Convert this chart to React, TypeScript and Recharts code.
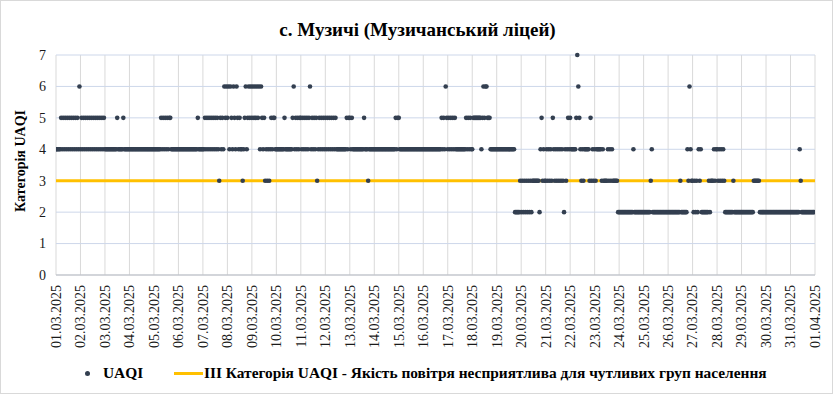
import { ComposedChart, Scatter, Line, XAxis, YAxis, CartesianGrid } from "recharts";

const dayLabels = [
  "01.03.2025", "02.03.2025", "03.03.2025", "04.03.2025", "05.03.2025", "06.03.2025",
  "07.03.2025", "08.03.2025", "09.03.2025", "10.03.2025", "11.03.2025", "12.03.2025",
  "13.03.2025", "14.03.2025", "15.03.2025", "16.03.2025", "17.03.2025", "18.03.2025",
  "19.03.2025", "20.03.2025", "21.03.2025", "22.03.2025", "23.03.2025", "24.03.2025",
  "25.03.2025", "26.03.2025", "27.03.2025", "28.03.2025", "29.03.2025", "30.03.2025",
  "31.03.2025", "01.04.2025",
];

// hourly UAQI category, one string of 24 hours per day (01.03 .. 31.03)
const hourlyUaqi = [
  "444445454545454545454546",
  "454545454545454545454545",
  "444444444444544444544444",
  "444444444444444444444444",
  "444444454545454554444444",
  "444444444444444444454444",
  "445454545454545435454656",
  "564654654654544345645656",
  "565656564654534343454554",
  "444444445444444456454545",
  "545454545645454534545454",
  "545454545454444444444545",
  "545444444444445444344444",
  "444444444444444444444545",
  "544444444444444444444444",
  "444444444444444444545465",
  "454545454444444444545454",
  "455555555456566555444444",
  "444444444444444444222223",
  "232323232323333333245343",
  "343434354343434343243454",
  "544444576543434444435343",
  "434444434333343434333332",
  "222222222222224222222222",
  "222222234222222222222222",
  "222222222222322222243643",
  "323232434222222232333434",
  "434343432222222232222222",
  "222222222222333333222222",
  "222222222222222222222222",
  "222222222432222222222222",
];

const thresholdLevel = 3;
const yTicks = [0, 1, 2, 3, 4, 5, 6, 7];

const points = hourlyUaqi.flatMap((day, d) =>
  day.split("").map((c, h) => ({ hour: d * 24 + h, uaqi: Number(c) }))
);
const lastHour = hourlyUaqi.length * 24;
const thresholdLine = [
  { hour: 0, threshold: thresholdLevel },
  { hour: lastHour, threshold: thresholdLevel },
];
const xTicks = dayLabels.map((_, i) => i * 24);

const serif = "'Liberation Serif', 'Times New Roman', serif";

const DateTick = ({ x, y, payload }: any) => (
  <text
    x={x}
    y={y + 2}
    transform={`rotate(-90 ${x} ${y + 2})`}
    textAnchor="end"
    dy="0.35em"
    style={{ fontSize: 14, fontFamily: serif }}
    fill="#1a1a1a"
  >
    {dayLabels[Math.round(payload.value / 24)]}
  </text>
);

const ValueTick = ({ x, y, payload }: any) => (
  <text x={x - 2} y={y} textAnchor="end" dy="0.35em" style={{ fontSize: 14, fontFamily: serif }} fill="#1a1a1a">
    {payload.value}
  </text>
);

const Dot = ({ cx, cy }: any) => <circle cx={cx} cy={cy} r={2.3} fill="#333f50" />;

export default function App() {
  return (
    <div
      style={{
        position: "absolute",
        left: 0,
        top: 0,
        width: 833,
        height: 394,
        boxSizing: "border-box",
        border: "1px solid #d9d9d9",
        background: "#fff",
        fontFamily: serif,
      }}
    >
      <div
        style={{
          position: "absolute",
          top: 18,
          left: 0,
          width: 833,
          textAlign: "center",
          fontSize: 19,
          fontWeight: "bold",
          color: "#000",
        }}
      >
        с. Музичі (Музичанський ліцей)
      </div>
      <div
        style={{
          position: "absolute",
          left: 20,
          top: 160,
          transform: "translate(-50%, -50%) rotate(-90deg)",
          whiteSpace: "nowrap",
          fontSize: 14,
          fontWeight: "bold",
          color: "#000",
        }}
      >
        Категорія UAQI
      </div>
      <div style={{ position: "absolute", left: -1, top: -1 }}>
        <ComposedChart width={833} height={394} margin={{ top: 55, right: 18, bottom: 39, left: 0 }}>
          <CartesianGrid horizontal={false} stroke="#d9d9d9" />
          <CartesianGrid vertical={false} stroke="#cdd7ea" />
          <XAxis
            dataKey="hour"
            type="number"
            domain={[0, lastHour]}
            ticks={xTicks}
            interval={0}
            tick={<DateTick />}
            tickLine={false}
            axisLine={{ stroke: "#bfbfbf" }}
            height={80}
            allowDataOverflow
          />
          <YAxis
            type="number"
            domain={[0, 7]}
            ticks={yTicks}
            width={56}
            tickLine={false}
            axisLine={false}
            tick={<ValueTick />}
          />
          <Line
            data={thresholdLine}
            dataKey="threshold"
            stroke="#ffc000"
            strokeWidth={3}
            dot={false}
            isAnimationActive={false}
          />
          <Scatter data={points} dataKey="uaqi" shape={<Dot />} isAnimationActive={false} />
        </ComposedChart>
      </div>
      <div
        style={{
          position: "absolute",
          left: 84,
          top: 370,
          width: 5,
          height: 5,
          borderRadius: "50%",
          background: "#333f50",
        }}
      />
      <div style={{ position: "absolute", left: 102, top: 363, fontSize: 15.4, fontWeight: "bold" }}>UAQI</div>
      <div style={{ position: "absolute", left: 173, top: 371, width: 29, height: 3, background: "#ffc000" }} />
      <div
        style={{
          position: "absolute",
          left: 203,
          top: 363,
          fontSize: 15.4,
          fontWeight: "bold",
          whiteSpace: "nowrap",
        }}
      >
        III Категорія UAQI - Якість повітря несприятлива для чутливих груп населення
      </div>
    </div>
  );
}
